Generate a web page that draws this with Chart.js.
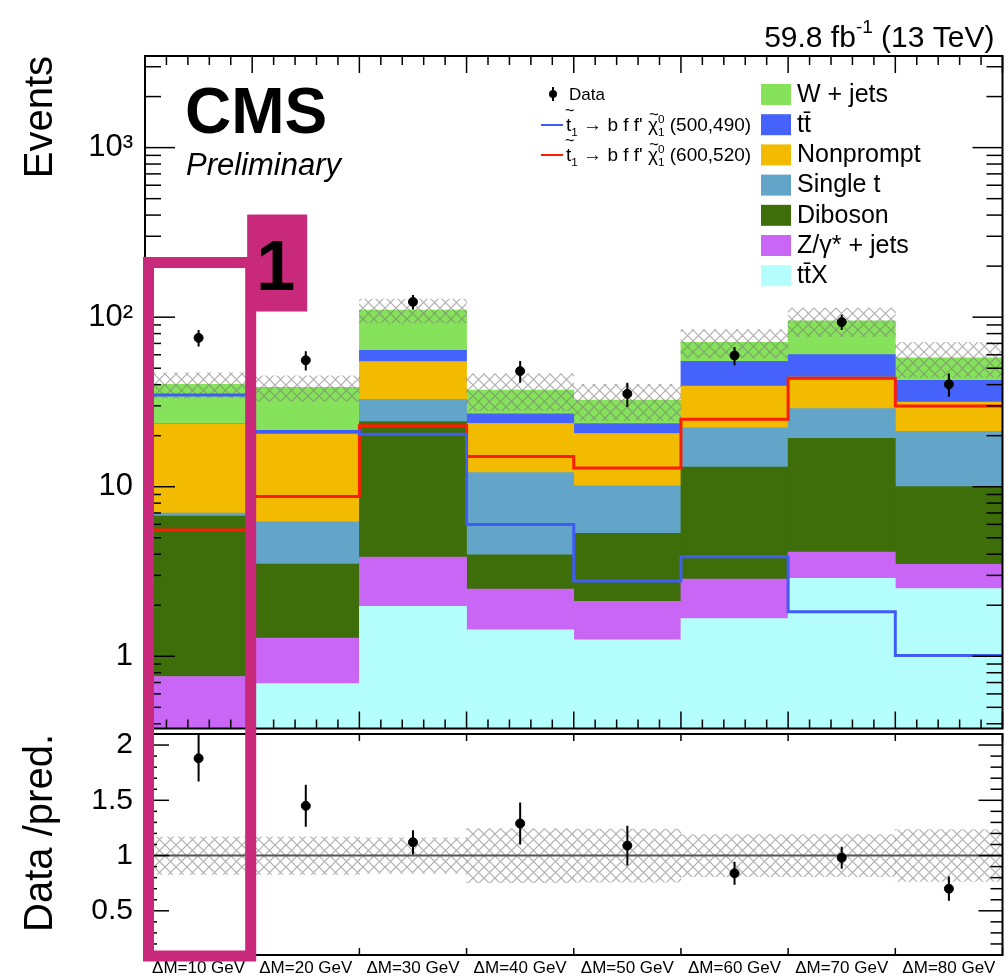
<!DOCTYPE html>
<html>
<head>
<meta charset="utf-8">
<script src="https://cdn.jsdelivr.net/npm/chart.js@4.4.1/dist/chart.umd.min.js"></script>
<style>
  body { margin: 0; background: #fff; }
  #wrap { position: relative; width: 1008px; height: 976px; }
  canvas { position: absolute; left: 0; }
  #top { top: 0; }
  #ratio { top: 724px; }
  #overlay { top: 0; pointer-events: none; }
</style>
</head>
<body>
<div id="wrap">
  <canvas id="top" width="1008" height="734"></canvas>
  <canvas id="ratio" width="1008" height="252"></canvas>
  <canvas id="overlay" width="1008" height="976"></canvas>
</div>
<script>
// bins
const binLabels = ['ΔM=10 GeV', 'ΔM=20 GeV', 'ΔM=30 GeV', 'ΔM=40 GeV', 'ΔM=50 GeV', 'ΔM=60 GeV', 'ΔM=70 GeV', 'ΔM=80 GeV'];
const nBins = binLabels.length;

// background yields per process (stack order bottom -> top)
const ttX       = [0.30, 0.68, 1.96, 1.42, 1.24, 1.66, 2.87, 2.50];
const zjets     = [0.45, 0.59, 1.87, 1.06, 0.86, 1.18, 1.23, 0.97];
const diboson   = [5.95, 2.22, 20.4, 1.47, 3.20, 10.2, 15.2, 6.53];
const singleT   = [0.29, 2.71, 8.50, 8.15, 4.80, 9.20, 9.60, 11.2];
const nonprompt = [16.5, 14.2, 21.9, 11.5, 10.5, 17.0, 15.4, 10.4];
const ttbar     = [0.10, 0.40, 9.00, 3.30, 3.00, 15.7, 15.8, 10.8];
const wjets     = [16.6, 17.7, 46.4, 10.3, 8.80, 16.1, 35.1, 15.2];
// relative uncertainty on the total prediction
const bkgUnc    = [0.17, 0.17, 0.16, 0.245, 0.24, 0.19, 0.19, 0.235];

// observed data
const dataYield = [75.5, 55.7, 123, 48.1, 35.3, 59.4, 93.6, 40.2];
const dataErr   = [8.4, 7.3, 12.0, 7.1, 5.8, 7.4, 9.6, 6.3];

// signals
const sig500 = [34.8, 21.2, 20.4, 5.98, 2.78, 3.87, 1.83, 1.01];
const sig600 = [5.55, 8.76, 22.9, 15.1, 12.9, 25.0, 43.6, 29.9];

// ratio panel
const ratio    = [1.88, 1.45, 1.12, 1.29, 1.09, 0.84, 0.98, 0.70];
const ratioErr = [0.21, 0.19, 0.11, 0.19, 0.18, 0.105, 0.10, 0.11];

// axis ticks
const logMajor = [1, 10, 100, 1000];
const logText = { 1: '1', 10: '10', 100: '10²', 1000: '10³' };
const ratioMajor = [0.5, 1, 1.5, 2];

const stackNames  = ['t\u0074\u0304X', 'Z/γ* + jets', 'Diboson', 'Single t', 'Nonprompt', 't\u0074\u0304', 'W + jets'];
const stackColors = ['#b4fefe', '#ca66f6', '#3d6e09', '#63a4c9', '#f2bb00', '#4563fb', '#86e25a'];
const stackParts  = [ttX, zjets, diboson, singleT, nonprompt, ttbar, wjets];
const sigColors   = ['#3f5df6', '#fb1d05'];
const sigMass     = ['(500,490)', '(600,520)'];
const boxColor    = '#c9297a';
const FAM = '"Liberation Sans", Arial, Helvetica, sans-serif';

Chart.defaults.font.family = FAM;
Chart.defaults.color = '#000';

// hatch pattern for the uncertainty band
function makeHatch() {
  const c = document.createElement('canvas');
  c.width = c.height = 11;
  const g = c.getContext('2d');
  g.strokeStyle = 'rgba(120,120,120,0.6)';
  g.lineWidth = 1.2;
  g.beginPath();
  g.moveTo(-1, -1); g.lineTo(12, 12);
  g.moveTo(12, -1); g.lineTo(-1, 12);
  g.stroke();
  return g.createPattern(c, 'repeat');
}
const hatch = makeHatch();

// build stacked floating bars
const stackFloor = 0.01;
let lower = ttX.map(() => stackFloor);
const stackSets = stackParts.map((vals, k) => {
  const upper = vals.map((v, i) => lower[i] + v);
  const ds = {
    type: 'bar',
    label: stackNames[k],
    data: upper.map((u, i) => ({ x: i + 0.5, y: [lower[i], u] })),
    backgroundColor: stackColors[k],
    borderWidth: 0,
    grouped: false,
    barPercentage: 1,
    categoryPercentage: 1,
    order: 10 + k
  };
  lower = upper;
  return ds;
});
const total = lower;

const uncSet = {
  type: 'bar',
  label: 'unc',
  data: total.map((t, i) => ({ x: i + 0.5, y: [t * (1 - bkgUnc[i]), t * (1 + bkgUnc[i])] })),
  backgroundColor: hatch,
  borderWidth: 0,
  grouped: false,
  barPercentage: 1,
  categoryPercentage: 1,
  order: 5
};

function stepPoints(vals) {
  const pts = [];
  for (let i = 0; i <= vals.length; i++) pts.push({ x: i, y: vals[Math.min(i, vals.length - 1)] });
  return pts;
}
const sigSets = [sig500, sig600].map((vals, k) => ({
  type: 'line',
  label: sigMass[k],
  data: stepPoints(vals),
  borderColor: sigColors[k],
  borderWidth: 3,
  pointRadius: 0,
  stepped: 'before',
  fill: false,
  order: 2 + k
}));

const dataSet = {
  type: 'line',
  label: 'Data',
  data: dataYield.map((v, i) => ({ x: i + 0.5, y: v })),
  errorBars: dataErr,
  showLine: false,
  pointRadius: 4.5,
  pointBackgroundColor: '#000',
  pointBorderColor: '#000',
  order: 0
};

// plugin: ROOT style frame with inward ticks
const rootFrame = {
  id: 'rootFrame',
  afterDatasetsDraw(chart, args, o) {
    const { ctx, chartArea: a, scales } = chart;
    const xs = scales.x, ys = scales.y;
    ctx.save();
    ctx.strokeStyle = '#000';
    ctx.lineWidth = 1.5;
    const seg = (x1, y1, x2, y2) => { ctx.beginPath(); ctx.moveTo(x1, y1); ctx.lineTo(x2, y2); ctx.stroke(); };
    for (let i = 0; i <= nBins * o.xDiv; i++) {
      const major = i % o.xDiv === 0;
      const len = major ? o.xMajor : o.xMinor;
      if (!len) continue;
      const px = xs.getPixelForValue(i / o.xDiv);
      seg(px, a.top, px, a.top + len);
      seg(px, a.bottom, px, a.bottom - len);
    }
    o.yTicks(ys).forEach(t => {
      const py = ys.getPixelForValue(t.v);
      if (py < a.top - 0.5 || py > a.bottom + 0.5) return;
      const len = t.major ? o.yMajor : o.yMinor;
      seg(a.left, py, a.left + len, py);
      seg(a.right, py, a.right - len, py);
    });
    ctx.lineWidth = 2;
    ctx.strokeRect(a.left, a.top, a.right - a.left, a.bottom - a.top);
    ctx.restore();
  }
};

// plugin: vertical error bars
const errorBars = {
  id: 'errorBars',
  afterDatasetsDraw(chart) {
    const { ctx, chartArea: a } = chart;
    chart.data.datasets.forEach((ds, k) => {
      if (!ds.errorBars) return;
      const meta = chart.getDatasetMeta(k);
      const ys = chart.scales[meta.yAxisID];
      ctx.save();
      ctx.beginPath();
      ctx.rect(a.left, a.top, a.right - a.left, a.bottom - a.top);
      ctx.clip();
      ctx.strokeStyle = '#000';
      ctx.lineWidth = 2;
      meta.data.forEach((pt, i) => {
        const v = ds.data[i].y, e = ds.errorBars[i];
        ctx.beginPath();
        ctx.moveTo(pt.x, ys.getPixelForValue(v - e));
        ctx.lineTo(pt.x, ys.getPixelForValue(v + e));
        ctx.stroke();
      });
      ctx.restore();
    });
  }
};

// rich text: segments {t, k:'n'|'sub'|'supsub', tilde, tildeY, s2}
function drawRich(ctx, x, y, segs, size) {
  let cx = x;
  segs.forEach(s => {
    if (s.k === 'sub') {
      ctx.font = `${size * 0.62}px ${FAM}`;
      ctx.fillText(s.t, cx, y + size * 0.25);
      cx += ctx.measureText(s.t).width;
    } else if (s.k === 'supsub') {
      ctx.font = `${size * 0.62}px ${FAM}`;
      ctx.fillText(s.t, cx, y - size * 0.42);
      ctx.fillText(s.s2, cx, y + size * 0.25);
      cx += Math.max(ctx.measureText(s.t).width, ctx.measureText(s.s2).width);
    } else {
      ctx.font = `${size}px ${FAM}`;
      ctx.fillText(s.t, cx, y);
      const w = ctx.measureText(s.t).width;
      if (s.tilde) {
        ctx.font = `${size * 0.85}px ${FAM}`;
        const tw = ctx.measureText('~').width;
        ctx.fillText('~', cx + w / 2 - tw / 2 + 1, y - size * s.tildeY);
      }
      cx += w;
    }
  });
  return cx;
}

// plugin: labels and legend on the main panel
const topDecor = {
  id: 'topDecor',
  afterDraw(chart) {
    const { ctx, chartArea: a } = chart;
    ctx.save();
    ctx.fillStyle = '#000';
    ctx.textBaseline = 'alphabetic';
    // lumi label
    ctx.textAlign = 'right';
    let rx = a.right - 8;
    ctx.font = `30px ${FAM}`;
    ctx.fillText(' (13 TeV)', rx, 47);
    rx -= ctx.measureText(' (13 TeV)').width;
    ctx.font = `19px ${FAM}`;
    ctx.fillText('-1', rx, 33);
    rx -= ctx.measureText('-1').width;
    ctx.font = `30px ${FAM}`;
    ctx.fillText('59.8 fb', rx, 47);
    // CMS Preliminary
    ctx.textAlign = 'left';
    ctx.font = `bold 64px ${FAM}`;
    ctx.fillText('CMS', a.left + 40, a.top + 77);
    ctx.font = `italic 31px ${FAM}`;
    ctx.fillText('Preliminary', a.left + 41, a.top + 119);

    // legend, left column
    const lx = a.left + 408;
    ctx.strokeStyle = '#000';
    ctx.lineWidth = 2;
    ctx.beginPath(); ctx.moveTo(lx, a.top + 31); ctx.lineTo(lx, a.top + 45); ctx.stroke();
    ctx.beginPath(); ctx.arc(lx, a.top + 38, 4, 0, Math.PI * 2); ctx.fill();
    ctx.font = `17px ${FAM}`;
    ctx.fillText('Data', lx + 16, a.top + 44);
    sigSets.forEach((ds, k) => {
      const yy = a.top + 69 + k * 30;
      ctx.strokeStyle = ds.borderColor;
      ctx.lineWidth = 2;
      ctx.beginPath(); ctx.moveTo(lx - 12, yy); ctx.lineTo(lx + 10, yy); ctx.stroke();
      ctx.fillStyle = '#000';
      drawRich(ctx, lx + 13, yy + 6, [
        { t: 't', k: 'n', tilde: true, tildeY: 0.78 },
        { t: '1', k: 'sub' },
        { t: ' → b f f\' ', k: 'n' },
        { t: 'χ', k: 'n', tilde: true, tildeY: 0.6 },
        { t: '0', k: 'supsub', s2: '1' },
        { t: ' ' + ds.label, k: 'n' }
      ], 19);
    });

    // legend, right column (top of stack first)
    const bx = a.left + 616;
    ctx.font = `25px ${FAM}`;
    ctx.textBaseline = 'middle';
    for (let k = stackSets.length - 1, row = 0; k >= 0; k--, row++) {
      const yy = a.top + 38 + row * 30.2;
      ctx.fillStyle = stackSets[k].backgroundColor;
      ctx.fillRect(bx, yy - 10, 30, 21);
      ctx.fillStyle = '#000';
      ctx.fillText(stackSets[k].label, bx + 36, yy + 1);
    }
    ctx.restore();
  }
};

function logTicks(ys) {
  const out = [];
  for (let d = -1; d <= 3; d++) {
    for (let m = 1; m <= 9; m++) out.push({ v: m * Math.pow(10, d), major: m === 1 });
  }
  return out;
}
function ratioTicks(ys) {
  const out = [];
  for (let i = 1; i <= 21; i++) {
    const v = i / 10;
    out.push({ v: v, major: i % 5 === 0 });
  }
  return out;
}

// keep label overhang from shrinking the plot area
function noPad(s) {
  s.paddingTop = 0; s.paddingBottom = 0; s.paddingLeft = 0; s.paddingRight = 0;
}

const topChart = new Chart(document.getElementById('top'), {
  type: 'bar',
  data: { datasets: [dataSet, ...sigSets, uncSet, ...stackSets] },
  options: {
    responsive: false,
    animation: false,
    events: [],
    layout: { padding: { top: 56, right: 4, left: 0, bottom: 0 } },
    scales: {
      x: {
        type: 'linear', min: 0, max: nBins, offset: false,
        afterBuildTicks: s => { s.ticks = binLabels.map((_, i) => ({ value: i + 0.5 })); },
        afterFit: s => { s.height = 0; noPad(s); },
        ticks: { display: false },
        grid: { display: false, drawTicks: false },
        border: { display: false }
      },
      y: {
        type: 'logarithmic', min: 0.375, max: 3470,
        afterFit: s => { s.width = 145; noPad(s); },
        afterBuildTicks: s => { s.ticks = logMajor.map(v => ({ value: v })); },
        ticks: { callback: v => logText[v], font: { size: 31 }, padding: 12, autoSkip: false },
        grid: { display: false, drawTicks: false },
        border: { display: false },
        title: { display: true, text: 'Events', align: 'end', font: { size: 40 }, padding: { top: 17 } }
      }
    },
    plugins: {
      legend: { display: false },
      tooltip: { enabled: false },
      rootFrame: { xDiv: 5, xMajor: 17, xMinor: 9, yMajor: 30, yMinor: 16, yTicks: logTicks }
    }
  },
  plugins: [rootFrame, errorBars, topDecor]
});

const ratioChart = new Chart(document.getElementById('ratio'), {
  type: 'bar',
  data: {
    datasets: [
      {
        type: 'line', label: 'ratio',
        data: ratio.map((v, i) => ({ x: i + 0.5, y: v })),
        errorBars: ratioErr,
        showLine: false, pointRadius: 4.5,
        pointBackgroundColor: '#000', pointBorderColor: '#000', order: 0
      },
      {
        type: 'line', label: 'unity',
        data: [{ x: 0, y: 1 }, { x: nBins, y: 1 }],
        borderColor: '#555', borderWidth: 2, pointRadius: 0, order: 1
      },
      {
        type: 'bar', label: 'unc',
        data: bkgUnc.map((u, i) => ({ x: i + 0.5, y: [1 - u, 1 + u] })),
        backgroundColor: hatch, borderWidth: 0, grouped: false,
        barPercentage: 1, categoryPercentage: 1, order: 2
      }
    ]
  },
  options: {
    responsive: false,
    animation: false,
    events: [],
    layout: { padding: { top: 10, right: 4, left: 0, bottom: 0 } },
    scales: {
      x: {
        type: 'linear', min: 0, max: nBins, offset: false,
        afterBuildTicks: s => { s.ticks = binLabels.map((_, i) => ({ value: i + 0.5 })); },
        afterFit: s => { s.height = 21; noPad(s); },
        ticks: { callback: v => binLabels[Math.floor(v)], font: { size: 17 }, padding: 3, maxRotation: 0, autoSkip: false },
        grid: { display: false, drawTicks: false },
        border: { display: false }
      },
      y: {
        type: 'linear', min: 0.1, max: 2.1,
        afterFit: s => { s.width = 145; noPad(s); },
        afterBuildTicks: s => { s.ticks = ratioMajor.map(v => ({ value: v })); },
        ticks: { callback: v => String(v), font: { size: 30 }, padding: 12, autoSkip: false },
        grid: { display: false, drawTicks: false },
        border: { display: false },
        title: { display: true, text: 'Data /pred.', align: 'end', font: { size: 40 }, padding: { top: 17 } }
      }
    },
    plugins: {
      legend: { display: false },
      tooltip: { enabled: false },
      rootFrame: { xDiv: 1, xMajor: 7, xMinor: 0, yMajor: 24, yMinor: 12, yTicks: ratioTicks }
    }
  },
  plugins: [rootFrame, errorBars]
});

// highlight box around the first bin
const highlightBin = 0;
const highlightTop = 210;
const ratioOffset = 724;
function drawHighlight() {
  const g = document.getElementById('overlay').getContext('2d');
  const xs = topChart.scales.x, ys = topChart.scales.y;
  const left = xs.getPixelForValue(highlightBin) + 3.5;
  const right = xs.getPixelForValue(highlightBin + 1) - 1.5;
  const top = ys.getPixelForValue(highlightTop);
  const bottom = ratioOffset + ratioChart.chartArea.bottom + 1;
  g.strokeStyle = boxColor;
  g.lineWidth = 11;
  g.strokeRect(left, top, right - left, bottom - top);
  g.fillStyle = boxColor;
  g.fillRect(right - 3.5, top - 48, 60, 97);
  g.fillStyle = '#000';
  g.font = `bold 70px ${FAM}`;
  g.textAlign = 'center';
  g.textBaseline = 'alphabetic';
  g.fillText('1', right + 25, top + 27);
}
drawHighlight();
</script>
</body>
</html>
